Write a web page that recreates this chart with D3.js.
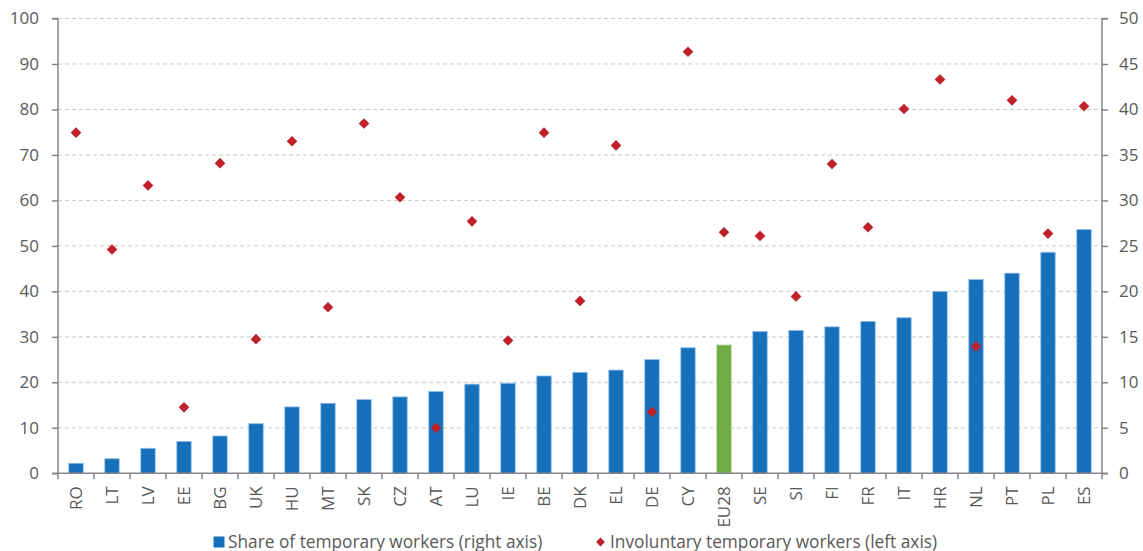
<!DOCTYPE html>
<html><head><meta charset="utf-8">
<script src="https://cdn.jsdelivr.net/npm/d3@7"></script>
<style>
html,body{margin:0;padding:0;background:#fff;}
svg{display:block;font-family:"Open Sans",Lato,sans-serif;}
</style></head>
<body>
<svg id="chart" width="1143" height="551"></svg>
<script>
const categories = ["RO","LT","LV","EE","BG","UK","HU","MT","SK","CZ","AT","LU","IE","BE","DK","EL","DE","CY","EU28","SE","SI","FI","FR","IT","HR","NL","PT","PL","ES"];
const shareTemporary = [1.1,1.6,2.75,3.5,4.1,5.45,7.3,7.7,8.1,8.4,9.0,9.8,9.9,10.7,11.1,11.35,12.5,13.8,14.1,15.6,15.7,16.1,16.7,17.1,20.0,21.3,22.0,24.3,26.8];
const involuntary = [74.9,49.2,63.3,14.5,68.2,29.5,73.0,36.5,76.9,60.7,10.0,55.4,29.2,74.9,37.9,72.1,13.5,92.7,53.0,52.2,38.9,68.0,54.1,80.1,86.6,27.9,82.0,52.7,80.7];
const leftTicks = [0,10,20,30,40,50,60,70,80,90,100];
const rightTicks = [0,5,10,15,20,25,30,35,40,45,50];
const highlight = "EU28";
const seriesNames = ["Share of temporary workers (right axis)","Involuntary temporary workers (left axis)"];

const svg = d3.select("#chart");
const m = {left:58, right:1102, top:18.5, bottom:473.3};
const textCol = "#595959", axisCol = "#868686";
const fs = "17px";

const x = d3.scaleBand().domain(categories).range([m.left, m.right]).paddingInner(0.6).paddingOuter(0.3);
const yL = d3.scaleLinear().domain([0,100]).range([m.bottom, m.top]);
const yR = d3.scaleLinear().domain([0,50]).range([m.bottom, m.top]);

// gridlines
svg.append("g").selectAll("line").data(leftTicks.filter(d=>d>0)).join("line")
  .attr("x1", m.left).attr("x2", m.right)
  .attr("y1", d=>yL(d)).attr("y2", d=>yL(d))
  .attr("stroke","#c9c9c9").attr("stroke-width",1).attr("stroke-dasharray","4,3");

// bars
svg.append("g").selectAll("rect").data(categories).join("rect")
  .attr("x", d=>x(d)).attr("width", x.bandwidth())
  .attr("y", (d,i)=>yR(shareTemporary[i]))
  .attr("height", (d,i)=>yR(0)-yR(shareTemporary[i]))
  .attr("fill", d=> d===highlight ? "#6fac46" : "#166fba")
  .attr("stroke", d=> d===highlight ? "#a9d18e" : "#8fbce6").attr("stroke-width",0.8);

// axes
const leftAxis = d3.axisLeft(yL).tickValues(leftTicks).tickSize(6).tickPadding(13);
const gL = svg.append("g").attr("transform",`translate(${m.left},0)`).call(leftAxis);
const rightAxis = d3.axisRight(yR).tickValues(rightTicks).tickSize(6).tickPadding(11);
const gR = svg.append("g").attr("transform",`translate(${m.right},0)`).call(rightAxis);
[gL,gR].forEach(g=>{
  g.select(".domain").attr("stroke",axisCol).attr("stroke-width",1.5).attr("d", g===gL ? `M-6,${m.top}H0V${m.bottom}H-6` : `M6,${m.top}H0V${m.bottom}H6`);
  g.selectAll(".tick line").attr("stroke",axisCol).attr("stroke-width",1.5);
  g.selectAll(".tick text").attr("fill",textCol).style("font-size",fs).style("font-family","Open Sans");
});

// x axis
const gx = svg.append("g");
gx.append("line").attr("x1",m.left).attr("x2",m.right).attr("y1",m.bottom).attr("y2",m.bottom)
  .attr("stroke",axisCol).attr("stroke-width",1.5);
const step = x.step();
gx.selectAll("line.tk").data(d3.range(categories.length+1)).join("line").attr("class","tk")
  .attr("x1", i=> i<categories.length ? x(categories[i]) - step*0.3 : m.right)
  .attr("x2", i=> i<categories.length ? x(categories[i]) - step*0.3 : m.right)
  .attr("y1", m.bottom).attr("y2", m.bottom+6)
  .attr("stroke",axisCol).attr("stroke-width",1.5);
gx.selectAll("text").data(categories).join("text")
  .attr("transform", d=>`translate(${x(d)+x.bandwidth()/2+6},${m.bottom+13}) rotate(-90)`)
  .attr("text-anchor","end").attr("fill",textCol).style("font-size",fs).text(d=>d);

// diamonds
const diamond = d3.symbol().type(d3.symbolDiamond2).size(72);
svg.append("g").selectAll("path").data(categories).join("path")
  .attr("d", diamond)
  .attr("transform", (d,i)=>`translate(${x(d)+x.bandwidth()/2},${yL(involuntary[i])})`)
  .attr("fill","#c0202a");

// legend
const lg = svg.append("g");
lg.append("rect").attr("x",213.5).attr("y",536.5).attr("width",11).attr("height",11).attr("fill","#166fba");
lg.append("text").attr("x",228).attr("y",547.5).attr("fill",textCol).style("font-size","17.3px").text(seriesNames[0]);
lg.append("path").attr("d", d3.symbol().type(d3.symbolDiamond2).size(50)).attr("transform","translate(600.5,542)").attr("fill","#c0202a");
lg.append("text").attr("x",610).attr("y",547.5).attr("fill",textCol).style("font-size","17.3px").text(seriesNames[1]);
</script>
</body></html>
